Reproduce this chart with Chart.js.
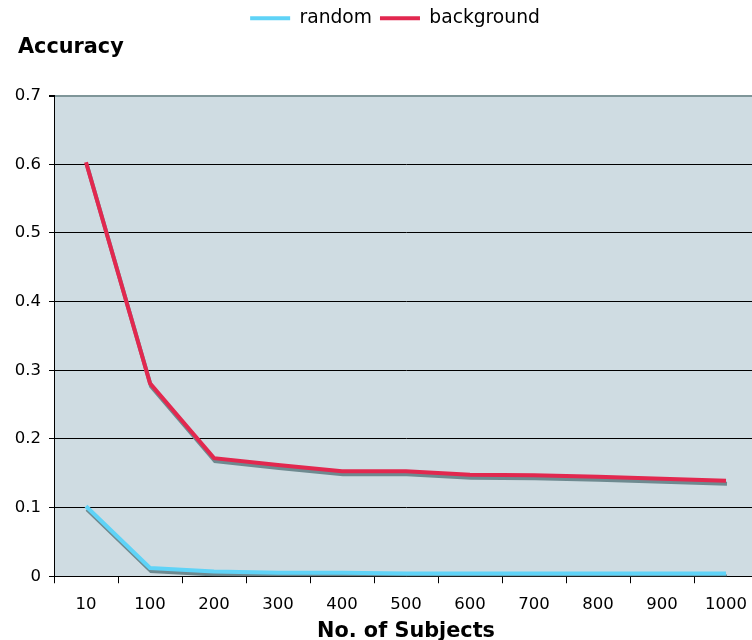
<!DOCTYPE html>
<html>
<head>
<meta charset="utf-8">
<script src="https://cdn.jsdelivr.net/npm/chart.js@4/dist/chart.umd.min.js"></script>
<style>
html,body{margin:0;padding:0;background:#fff;overflow:hidden;}
#wrap{width:760px;height:640px;}
</style>
</head>
<body>
<div id="wrap"><canvas id="c" width="760" height="640"></canvas></div>
<script>
const categories = ['10','100','200','300','400','500','600','700','800','900','1000'];
const randomValues = [0.102, 0.012, 0.007, 0.005, 0.005, 0.004, 0.004, 0.004, 0.004, 0.004, 0.004];
const backgroundValues = [0.603, 0.281, 0.172, 0.162, 0.153, 0.153, 0.148, 0.147, 0.145, 0.142, 0.139];
const seriesNames = ['random', 'background'];
const yTicks = [0, 0.1, 0.2, 0.3, 0.4, 0.5, 0.6, 0.7];

const FONT = '"DejaVu Sans", Verdana, sans-serif';

const plotBg = {
  id: 'plotBg',
  beforeDraw(chart) {
    const {ctx, chartArea: a} = chart;
    ctx.save();
    ctx.fillStyle = '#cfdce2';
    ctx.fillRect(a.left, a.top, a.right - a.left, a.bottom - a.top);
    ctx.restore();
  }
};
const shadow = {
  id: 'shadow',
  beforeDatasetsDraw(chart) {
    const ctx = chart.ctx;
    ctx.save();
    ctx.shadowColor = '#6e8a90';
    ctx.shadowOffsetX = 1;
    ctx.shadowOffsetY = 3;
    ctx.shadowBlur = 0;
  },
  afterDatasetsDraw(chart) {
    chart.ctx.restore();
  }
};
const boxShift = {
  id: 'boxShift',
  afterLayout(chart) {
    if (chart.titleBlock) chart.titleBlock.left = 18;
    if (chart.legend) { chart.legend.left += 16; chart.legend.right += 16; }
  }
};

new Chart(document.getElementById('c'), {
  type: 'line',
  data: {
    labels: categories,
    datasets: [
      { label: seriesNames[0], data: randomValues, borderColor: '#5fd3f7', backgroundColor: '#5fd3f7', borderWidth: 4, pointRadius: 0, tension: 0 },
      { label: seriesNames[1], data: backgroundValues, borderColor: '#e2284f', backgroundColor: '#e2284f', borderWidth: 4, pointRadius: 0, tension: 0 }
    ]
  },
  options: {
    responsive: false,
    animation: false,
    layout: { padding: { top: 1, left: 0, right: 2, bottom: -4 } },
    plugins: {
      legend: {
        position: 'top',
        weight: 3000,
        labels: {
          color: '#000',
          font: { family: FONT, size: 18.7 },
          boxWidth: 40,
          boxHeight: 4,
          padding: 8,
          generateLabels(chart) {
            return chart.data.datasets.map((d, i) => ({
              text: d.label, fillStyle: d.borderColor, strokeStyle: d.borderColor,
              lineWidth: 0, hidden: false, datasetIndex: i, fontColor: '#000'
            }));
          }
        }
      },
      title: {
        display: true,
        text: 'Accuracy',
        align: 'start',
        color: '#000',
        font: { family: FONT, size: 20.8, weight: 'bold' },
        padding: { top: -3, bottom: 36 }
      },
      tooltip: { enabled: false }
    },
    scales: {
      x: {
        offset: true,
        grid: { offset: true, drawOnChartArea: false, color: '#000', tickLength: 7, tickColor: '#000' },
        border: { color: '#000', width: 1 },
        ticks: { color: '#000', font: { family: FONT, size: 16.5 }, padding: 12, maxRotation: 0, autoSkip: false },
        title: { display: true, text: 'No. of Subjects', color: '#000', font: { family: FONT, size: 20.8, weight: 'bold' }, padding: { top: -8, bottom: 0 } }
      },
      y: {
        min: 0, max: 0.7,
        afterFit(scale) { scale.width = 54; },
        afterBuildTicks(scale) { scale.ticks = yTicks.map(v => ({ value: v })); },
        grid: {
          color: ctx => ctx.tick && ctx.tick.value === 0.7 ? '#7f9699' : '#000',
          lineWidth: ctx => ctx.tick && ctx.tick.value === 0.7 ? 2 : 1,
          tickLength: 5, tickColor: '#000'
        },
        border: { color: '#000', width: 1 },
        ticks: { color: '#000', font: { family: FONT, size: 16.5 }, padding: 8, callback: v => String(Math.round(v * 10) / 10) }
      }
    }
  },
  plugins: [plotBg, shadow, boxShift]
});
</script>
</body>
</html>
